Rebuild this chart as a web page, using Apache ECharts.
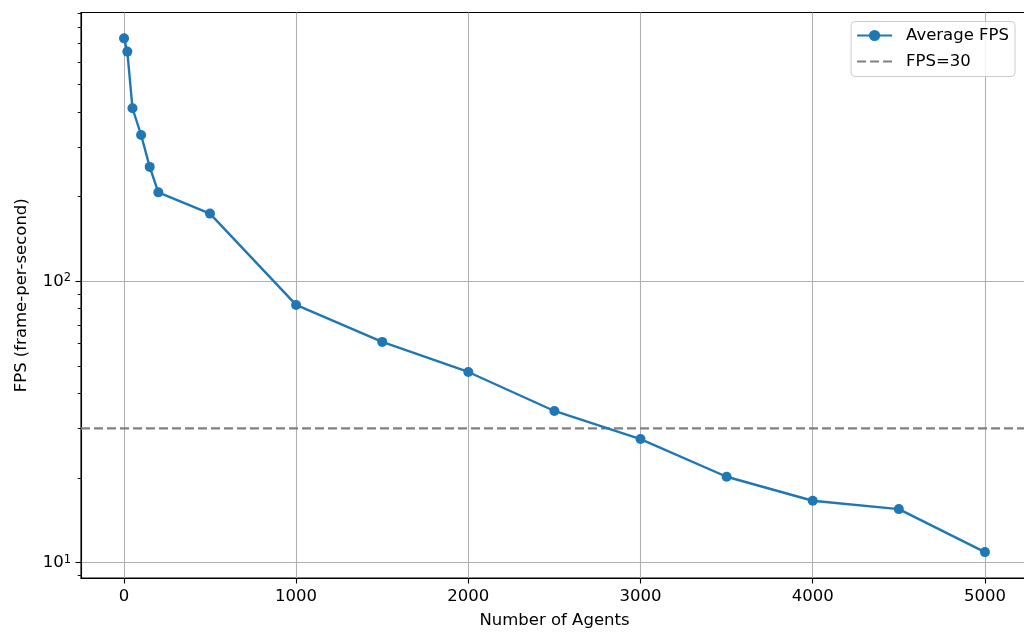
<!DOCTYPE html>
<html>
<head>
<meta charset="utf-8">
<script src="https://cdn.jsdelivr.net/npm/echarts@6/dist/echarts.min.js"></script>
<style>html,body{margin:0;padding:0;background:#fff;}#c{width:1024px;height:633px;}</style>
</head>
<body>
<div id="c"></div>
<script>
var agents = [1, 20, 50, 100, 150, 200, 500, 1000, 1500, 2000, 2500, 3000, 3500, 4000, 4500, 5000];
var avgFps = [730, 655, 412, 331, 255, 207, 174, 82.4, 60.9, 47.6, 34.6, 27.5, 20.2, 16.6, 15.5, 10.9];
var thresholdFps = 30;
var xTicks = [0, 1000, 2000, 3000, 4000, 5000];
var yMajorTicks = [10, 100];
var yMinorTicks = [9, 20, 30, 40, 50, 60, 70, 80, 90, 200, 300, 400, 500, 600, 700, 800, 900];
var xMin = -249, xMax = 5250, yMin = 8.82, yMax = 902;

var FONT = 'DejaVu Sans';
var FS = 16.5;
var chart = echarts.init(document.getElementById('c'), null, {renderer: 'canvas'});
var mainData = agents.map(function (a, i) { return [a, avgFps[i]]; });
var thrData = [[xMin, thresholdFps], [xMax, thresholdFps]];

chart.setOption({
  animation: false,
  backgroundColor: '#fff',
  textStyle: {fontFamily: FONT},
  grid: {left: 81, width: 947, top: 12.5, height: 565.5, outerBoundsMode: 'none', containLabel: false,
         show: true, borderColor: '#000', borderWidth: 1.1, backgroundColor: 'transparent'},
  legend: {
    orient: 'vertical', right: 9, top: 21.5,
    itemWidth: 35, itemHeight: 14, itemGap: 6,
    padding: [4, 6, 5, 5],
    backgroundColor: 'rgba(255,255,255,0.8)',
    borderColor: '#cccccc', borderWidth: 1, borderRadius: 4,
    textStyle: {fontFamily: FONT, fontSize: FS, color: '#000', lineHeight: 20, padding: [0, 0, 0, 9]},
    data: ['Average FPS', {name: 'FPS=30', itemStyle: {opacity: 0}}]
  },
  xAxis: {
    type: 'value', min: xMin, max: xMax,
    name: 'Number of Agents', nameLocation: 'middle', nameGap: 34,
    nameTextStyle: {fontFamily: FONT, fontSize: FS, color: '#000'},
    axisLine: {show: true, onZero: false, lineStyle: {color: '#000', width: 1.1}},
    axisTick: {show: true, length: 5.5, lineStyle: {color: '#000', width: 1.1}, customValues: xTicks},
    axisLabel: {fontFamily: FONT, fontSize: FS, color: '#000', margin: 10, customValues: xTicks,
                formatter: function (v) { return String(v); }},
    splitLine: {show: true, lineStyle: {color: '#b0b0b0', width: 1.1}}
  },
  yAxis: [{
    type: 'log', logBase: 10, min: yMin, max: yMax,
    name: 'FPS (frame-per-second)', nameLocation: 'middle', nameGap: 51,
    nameTextStyle: {fontFamily: FONT, fontSize: FS, color: '#000'},
    axisLine: {show: true, onZero: false, lineStyle: {color: '#000', width: 1.1}},
    axisTick: {show: true, length: 5.5, lineStyle: {color: '#000', width: 1.1}, customValues: yMajorTicks},
    axisLabel: {
      margin: 10, customValues: yMajorTicks,
      formatter: function (v) { return '{b|10}{s|' + Math.round(Math.log10(v)) + '}'; },
      rich: {
        b: {fontFamily: FONT, fontSize: FS, color: '#000', lineHeight: 18, verticalAlign: 'bottom'},
        s: {fontFamily: FONT, fontSize: 11.5, color: '#000', verticalAlign: 'top'}
      }
    },
    splitLine: {show: true, lineStyle: {color: '#b0b0b0', width: 1.1}}
  }, {
    type: 'log', logBase: 10, min: yMin, max: yMax, position: 'left',
    axisLine: {show: false, onZero: false},
    axisTick: {show: true, length: 3.3, lineStyle: {color: '#000', width: 0.9}, customValues: yMinorTicks},
    axisLabel: {show: false},
    splitLine: {show: false}
  }],
  series: [{
    name: 'Average FPS', type: 'line', data: mainData,
    symbol: 'circle', symbolSize: 10, showSymbol: true,
    itemStyle: {color: '#1f77b4'},
    lineStyle: {color: '#1f77b4', width: 2.4},
    z: 3
  }, {
    name: 'FPS=30', type: 'line', data: thrData,
    symbol: 'none',
    itemStyle: {color: '#808080'},
    lineStyle: {color: '#808080', width: 2.4, type: [9, 4]},
    z: 2
  }]
});
</script>
</body>
</html>
